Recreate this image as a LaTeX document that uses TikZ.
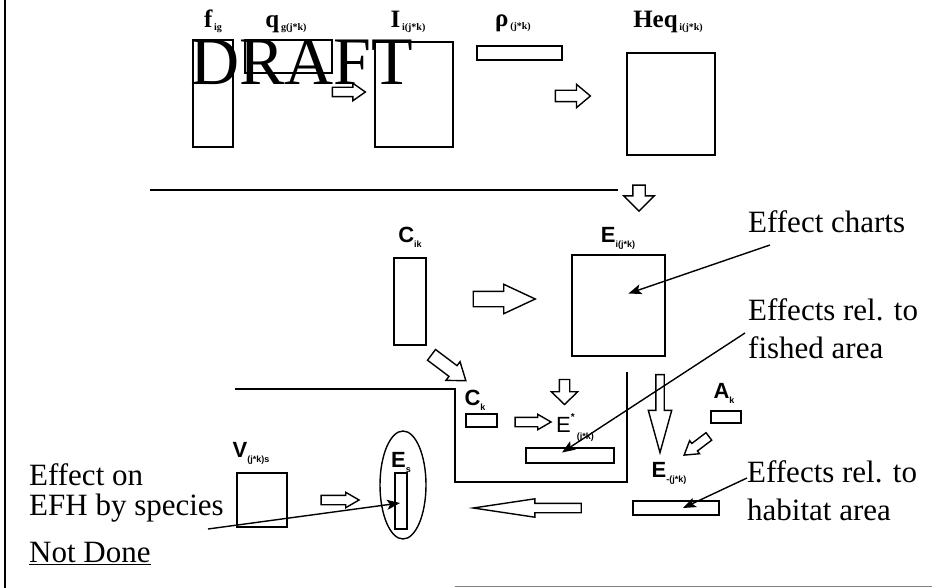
\documentclass[tikz,border=0pt]{standalone}
\usepackage{fontspec}
\setmainfont{Liberation Serif}
\newfontfamily\labsans{Liberation Sans}
\usetikzlibrary{arrows.meta,calc,positioning,shapes.geometric,shapes.arrows}
\newcommand{\toplab}[2]{{\fontsize{25}{25}\selectfont\bfseries #1}\,\raisebox{-3pt}{\fontsize{10}{10}\selectfont\bfseries #2}}
\newcommand{\midlab}[2]{{\labsans\fontsize{22}{22}\selectfont\bfseries #1}\raisebox{-5pt}{\labsans\fontsize{9}{9}\selectfont\bfseries #2}}
\tikzset{box/.style={draw,line width=1.6pt,inner sep=0pt},
  blk/.style={single arrow,draw,line width=1.4pt,inner sep=0pt,text width=0pt,text depth=0pt,fill=white},
  lead/.style={-{Stealth[length=13pt,width=10pt,inset=3pt]},line width=1.4pt},
  note/.style={font=\fontsize{31}{38}\selectfont,align=left,inner sep=0pt}}

\begin{document}
\begin{tikzpicture}[x=1pt,y=-1pt]
\useasboundingbox (0,0) rectangle (932,588);
% frame lines
\draw[line width=2pt] (5,0)--(5,588);
\draw[gray,line width=1pt] (455,586)--(932,586);
% watermark
\node[anchor=base west,inner sep=0pt,font=\fontsize{68}{68}\selectfont] (draft) at (190,85) {DRAFT};
% top row
\node[box,minimum width=40pt,minimum height=107pt] (fbox) at (213,93.5) {};
\node[box,minimum width=87pt,minimum height=33pt] (qbox) at (288.5,56.5) {};
\node[box,minimum width=78pt,minimum height=105pt] (ibox) at (414,94.5) {};
\node[box,minimum width=85pt,minimum height=14pt] (rhobox) at (519.5,53) {};
\node[box,minimum width=88pt,minimum height=102pt] (heqbox) at (671,104) {};
\node[anchor=base,inner sep=0pt] (flab) at (213,28) {\toplab{f}{ig}};
\node[anchor=base,inner sep=0pt] (qlab) at (286,28) {\toplab{q}{g(j*k)}};
\node[anchor=base,inner sep=0pt] (ilab) at (408,28) {\toplab{I}{i(j*k)}};
\node[anchor=base,inner sep=0pt] (rholab) at (513,27) {\toplab{ρ}{(j*k)}};
\node[anchor=base,inner sep=0pt] (heqlab) at (668,28) {\toplab{Heq}{i(j*k)}};
\node[blk,minimum height=33pt,text height=8pt,single arrow head extend=4pt,single arrow tip angle=70] (a1) at (345.5,92) {};
\node[blk,minimum height=35pt,text height=10pt,single arrow head extend=6pt,single arrow tip angle=80] (a2) at (569.5,96) {};
% divider
\draw[line width=1.6pt] (150,190)--(618,190);
\node[blk,rotate=-90,minimum height=26pt,text height=11pt,single arrow head extend=9pt,single arrow tip angle=90] (a4) at (639,195) {};
% middle row
\node[box,minimum width=32pt,minimum height=87pt] (cikbox) at (410,301.5) {};
\node[box,minimum width=93pt,minimum height=101pt] (ebox) at (618.5,305.5) {};
\node[anchor=base,inner sep=0pt] (ciklab) at (410,243) {\midlab{C}{ik}};
\node[anchor=base,inner sep=0pt] (elab) at (618,243) {\midlab{E}{i(j*k)}};
\node[blk,minimum height=62pt,text height=14pt,single arrow head extend=7pt,single arrow tip angle=50] (a3) at (496,299) {};
\node[blk,rotate=-37,minimum height=43pt,text height=12pt,single arrow head extend=5pt,single arrow tip angle=72] (a5) at (445,365) {};
% fished area part
\node[anchor=base,inner sep=0pt] (cklab) at (475,405) {\midlab{C}{k}};
\node[box,minimum width=31pt,minimum height=13pt] (ckbox) at (481.5,420.5) {};
\node[blk,minimum height=36pt,text height=8pt,single arrow head extend=3pt,single arrow tip angle=60] (a6) at (529,422) {};
\node[blk,rotate=-90,minimum height=25pt,text height=9pt,single arrow head extend=8pt,single arrow tip angle=92] (a7) at (564.5,389.5) {};
\node[anchor=base west,inner sep=0pt] (estlab) at (556,432) {{\labsans\fontsize{22}{22}\selectfont E}\rlap{\raisebox{12pt}{\labsans\fontsize{10}{10}\selectfont\bfseries *}}\hspace{6pt}\raisebox{-7pt}{\labsans\fontsize{9}{9}\selectfont\bfseries (j*k)}};
\node[box,minimum width=88pt,minimum height=15pt] (estbox) at (570,455.5) {};
\draw[line width=1.6pt] (235,389)--(455,389)--(455,482)--(627,482)--(627,372);
% habitat area part
\node[blk,rotate=-90,minimum height=78pt,text height=7pt,single arrow head extend=7.5pt,single arrow tip angle=31] (a8) at (660,406) {};
\node[anchor=base,inner sep=0pt] (aklab) at (724,398) {\midlab{A}{k}};
\node[box,minimum width=30pt,minimum height=12pt] (akbox) at (726,417) {};
\node[blk,rotate=-143,minimum height=31pt,text height=8pt,single arrow head extend=3.5pt,single arrow tip angle=64] (a9) at (699.5,443.5) {};
\node[anchor=base,inner sep=0pt] (emlab) at (669,477) {\midlab{E}{-(j*k)}};
\node[box,minimum width=86pt,minimum height=14pt] (embox) at (676,508) {};
\node[blk,rotate=180,minimum height=108pt,text height=8pt,single arrow head extend=4.5pt,single arrow tip angle=17] (a10) at (543,508) {};
% species part
\node[anchor=base,inner sep=0pt] (vlab) at (251,457) {\midlab{V}{(j*k)s}};
\node[box,minimum width=50pt,minimum height=54pt] (vbox) at (262,500) {};
\node[blk,minimum height=38pt,text height=8pt,single arrow head extend=3pt,single arrow tip angle=60] (a11) at (336,500) {};
\node[ellipse,draw,line width=1.4pt,minimum width=46pt,minimum height=108pt,inner sep=0pt] (esell) at (403,485) {};
\node[anchor=base,inner sep=0pt] (eslab) at (401,467) {\midlab{E}{s}};
\node[box,minimum width=12pt,minimum height=56pt] (esbox) at (401,501) {};
% notes (base = last line)
\node[note,anchor=base west] (charts) at (748,233) {Effect charts};
\node[note,anchor=base west] (fished) at (748,358) {Effects rel. to\\fished area};
\node[note,anchor=base west] (habitat) at (747,520) {Effects rel. to\\habitat area};
\node[note,anchor=base west,font=\fontsize{31}{30}\selectfont] (species) at (29,562) {Effect on\\EFH by species\\[17pt]\underline{Not Done}};
\coordinate (chartsfoot) at (770,245);
\coordinate (fishedfoot) at (745,333);
\coordinate (habitatfoot) at (747,478);
\coordinate (speciesfoot) at (208,529);
\draw[lead] (chartsfoot)--($(ebox.center)+(10,-12)$);
\draw[lead] (fishedfoot)--($(estbox.center)+(-8,-3)$);
\draw[lead] (habitatfoot)--($(embox.center)+(7,0)$);
\draw[lead] (speciesfoot)--($(esbox.center)+(-1,2)$);
\end{tikzpicture}
\end{document}
